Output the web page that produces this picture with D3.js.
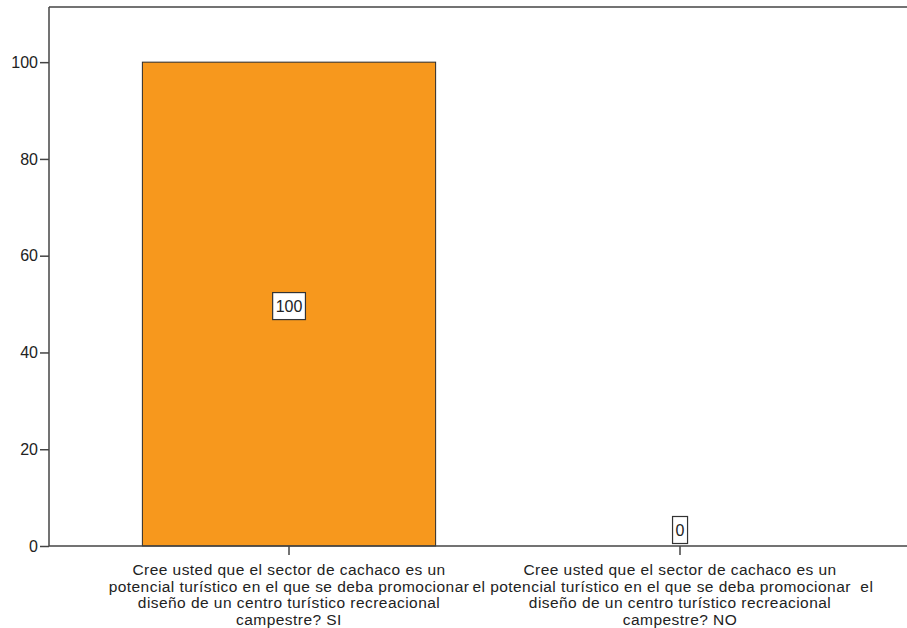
<!DOCTYPE html>
<html><head><meta charset="utf-8">
<script src="https://cdn.jsdelivr.net/npm/d3@7"></script>
<style>body{margin:0;background:#fff}svg{display:block}text{font-family:"Liberation Sans",Arial,sans-serif;fill:#222}</style>
</head><body>
<svg id="c" width="907" height="628"></svg>
<script>
const categories = ["SI", "NO"];
const values = [100, 0];
const yTicks = [0, 20, 40, 60, 80, 100];
const labelLines = [
  ["Cree usted que el sector de cachaco es un", "potencial turístico en el que se deba promocionar", "diseño de un centro turístico recreacional", "campestre? SI"],
  ["Cree usted que el sector de cachaco es un", "el potencial turístico en el que se deba promocionar  el   ", "diseño de un centro turístico recreacional", "campestre? NO"]
];

(function () {
const svg = d3.select("#c");
const mLeft = 49, mTop = 7, mBottom = 546, mRight = 907;
const y = d3.scaleLinear().domain([0, 111.4]).range([mBottom, mTop]);
const x = d3.scaleBand().domain(categories).range([93.5, 875.5]).paddingInner(0.25).paddingOuter(0.125);

svg.append("line").attr("x1", mLeft).attr("x2", mRight).attr("y1", mTop).attr("y2", mTop)
  .attr("stroke", "#444").attr("stroke-width", 1.5);

svg.selectAll("rect.bar").data(values).join("rect").attr("class", "bar")
  .attr("x", (d, i) => x(categories[i])).attr("width", x.bandwidth())
  .attr("y", d => y(d)).attr("height", d => mBottom - y(d))
  .attr("fill", "#F7981D").attr("stroke", "#2a2a2a").attr("stroke-width", d => d === 0 ? 2.5 : 1);

const ya = svg.append("g").attr("transform", `translate(${mLeft},0)`)
  .call(d3.axisLeft(y).tickValues(yTicks).tickSize(9).tickPadding(2));
ya.select(".domain").attr("stroke", "#444").attr("stroke-width", 1.5).attr("d", `M0,${mBottom}V${mTop}`);
ya.selectAll(".tick line").attr("stroke", "#444").attr("stroke-width", 1.5);
ya.selectAll(".tick text").style("font-family", "Liberation Sans, Arial, sans-serif").style("font-size", "16px").attr("fill", "#222");

const xa = svg.append("g").attr("transform", `translate(0,${mBottom})`)
  .call(d3.axisBottom(x).tickSize(9).tickFormat(""));
xa.select(".domain").attr("stroke", "#444").attr("stroke-width", 1.5).attr("d", `M${mLeft},0H${mRight}`);
xa.selectAll(".tick line").attr("stroke", "#444").attr("stroke-width", 1.5);

categories.forEach((c, i) => {
  const t = svg.append("text").attr("text-anchor", "middle").style("font-size", "15.5px").style("letter-spacing", "0.45px")
    .attr("xml:space", "preserve").style("white-space", "pre");
  labelLines[i].forEach((ln, j) => {
    t.append("tspan").attr("x", x(c) + x.bandwidth() / 2).attr("y", 575 + j * 16.7).text(ln);
  });
});

values.forEach((v, i) => {
  const cx = x(categories[i]) + x.bandwidth() / 2;
  const cy = v === 0 ? mBottom - 16 : (y(v) + mBottom) / 2 + 2;
  const g = svg.append("g");
  const t = g.append("text").attr("x", cx).attr("y", cy + 6).attr("text-anchor", "middle").style("font-size", "16px").text(v);
  const bb = t.node().getBBox();
  g.insert("rect", "text").attr("x", bb.x - 3).attr("y", cy - 13.5).attr("width", bb.width + 6).attr("height", 27)
    .attr("fill", "#fff").attr("stroke", "#333").attr("stroke-width", 1.2);
});
})();
</script>
</body></html>
